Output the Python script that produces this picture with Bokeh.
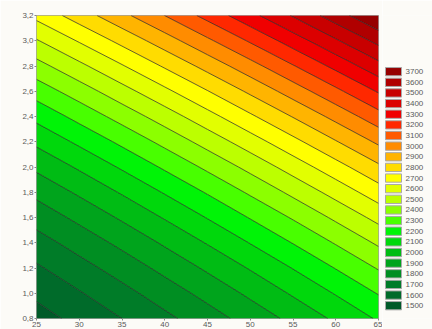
import numpy as np
from bokeh.plotting import figure
from bokeh.layouts import row
from bokeh.models import Range1d, FixedTicker, CustomJSTickFormatter, ColumnDataSource
from bokeh.core.properties import value
from bokeh.embed import file_html
from bokeh.resources import INLINE

# ---- data ----
x_vals = [25, 30, 35, 40, 45, 50, 55, 60, 65]
y_vals = [0.8, 1.0, 1.2, 1.4, 1.6, 1.8, 2.0, 2.2, 2.4, 2.6, 2.8, 3.0, 3.2]

# estimated surface values, one row per y value (bottom to top), columns follow x_vals
z_y08 = [1560, 1628, 1700, 1776, 1855, 1939, 2026, 2117, 2212]
z_y10 = [1620, 1692, 1768, 1848, 1932, 2020, 2112, 2207, 2306]
z_y12 = [1686, 1763, 1843, 1928, 2016, 2108, 2204, 2304, 2408]
z_y14 = [1759, 1840, 1925, 2014, 2107, 2204, 2304, 2408, 2516]
z_y16 = [1839, 1925, 2014, 2108, 2205, 2306, 2410, 2519, 2631]
z_y18 = [1926, 2016, 2110, 2208, 2309, 2415, 2524, 2637, 2754]
z_y20 = [2020, 2114, 2213, 2315, 2421, 2530, 2644, 2761, 2882]
z_y22 = [2121, 2220, 2322, 2429, 2539, 2653, 2771, 2893, 3018]
z_y24 = [2228, 2332, 2439, 2549, 2664, 2783, 2905, 3031, 3161]
z_y26 = [2343, 2450, 2562, 2677, 2796, 2919, 3046, 3176, 3310]
z_y28 = [2464, 2576, 2692, 2812, 2935, 3062, 3193, 3328, 3467]
z_y30 = [2592, 2709, 2829, 2953, 3081, 3212, 3348, 3487, 3630]
z_y32 = [2727, 2848, 2973, 3101, 3233, 3369, 3509, 3653, 3800]

level_labels = [1500, 1600, 1700, 1800, 1900, 2000, 2100, 2200, 2300, 2400, 2500, 2600,
                2700, 2800, 2900, 3000, 3100, 3200, 3300, 3400, 3500, 3600, 3700]
level_colors = ["#005a28", "#006b2a", "#007c28", "#008e22", "#00a41c", "#00bc14",
                "#00d80c", "#00f406", "#48ff00", "#8cff00", "#bcff00", "#e2ff00",
                "#ffff00", "#ffdc00", "#ffb400", "#ff8c00", "#ff5a00", "#ff2800",
                "#f00000", "#dc0000", "#c80000", "#b00000", "#960000"]

x_ticks = [25, 30, 35, 40, 45, 50, 55, 60, 65]
y_ticks = y_vals

# ---- main contour figure ----
z = np.array([z_y08, z_y10, z_y12, z_y14, z_y16, z_y18, z_y20, z_y22, z_y24,
              z_y26, z_y28, z_y30, z_y32], dtype=float)

BG = "#fcfbf7"
H = 329
p = figure(width=382, height=H, output_backend="svg", toolbar_location=None,
           x_range=Range1d(x_vals[0], x_vals[-1]), y_range=Range1d(y_vals[0], y_vals[-1]),
           min_border_left=36, min_border_right=4, min_border_top=15, min_border_bottom=11,
           background_fill_color=BG, border_fill_color=BG)
p.grid.visible = False
p.outline_line_color = "#444444"
p.outline_line_alpha = 0.5

levels = [min(z.min(), level_labels[0]) - 1] + level_labels[1:] + [max(z.max(), level_labels[-1] + 100) + 1]
p.contour(np.array(x_vals, dtype=float), np.array(y_vals, dtype=float), z, levels,
          fill_color=level_colors, line_color="#1a1a1a", line_width=0.8, line_alpha=0.85)

for ax in (p.xaxis, p.yaxis):
    ax.axis_line_color = None
    ax.major_tick_line_color = "#888888"
    ax.major_tick_in = 0
    ax.major_tick_out = 2
    ax.minor_tick_line_color = None
    ax.major_label_text_font = "Liberation Sans"
    ax.major_label_text_font_size = "8px"
    ax.major_label_text_color = "#5a5a5a"
    ax.major_label_standoff = 1

p.xaxis.ticker = FixedTicker(ticks=x_ticks)
p.yaxis.ticker = FixedTicker(ticks=y_ticks)
p.yaxis.formatter = CustomJSTickFormatter(code="return tick.toFixed(1).replace('.', ',');")

# ---- legend panel (screen-like coordinates: y grows downward) ----
LW = 50
leg = figure(width=LW, height=H, output_backend="svg", toolbar_location=None,
             x_range=Range1d(0, LW), y_range=Range1d(H, 0),
             min_border=0, background_fill_color=BG, border_fill_color=BG)
leg.axis.visible = False
leg.grid.visible = False
leg.outline_line_color = None

top_labels = list(reversed(level_labels))
top_colors = list(reversed(level_colors))
step = 11.55
first_center = 61.0
centers = [first_center + i * step for i in range(len(top_labels))]
src = ColumnDataSource(dict(
    left=[3] * len(centers), right=[19] * len(centers),
    top=[c - 4.5 for c in centers], bottom=[c + 4.5 for c in centers],
    color=top_colors, yc=centers, tx=[23] * len(centers),
    txt=[str(v) for v in top_labels]))
leg.quad(left="left", right="right", top="top", bottom="bottom", fill_color="color",
         line_color="#a8a8a8", line_width=1, source=src)
leg.text(x="tx", y="yc", text="txt", source=src, text_baseline="middle",
         text_font=value("Liberation Sans"), text_font_size="8px", text_color="#5a5a5a")

open("out.html", "w").write(file_html(row(p, leg), INLINE))
